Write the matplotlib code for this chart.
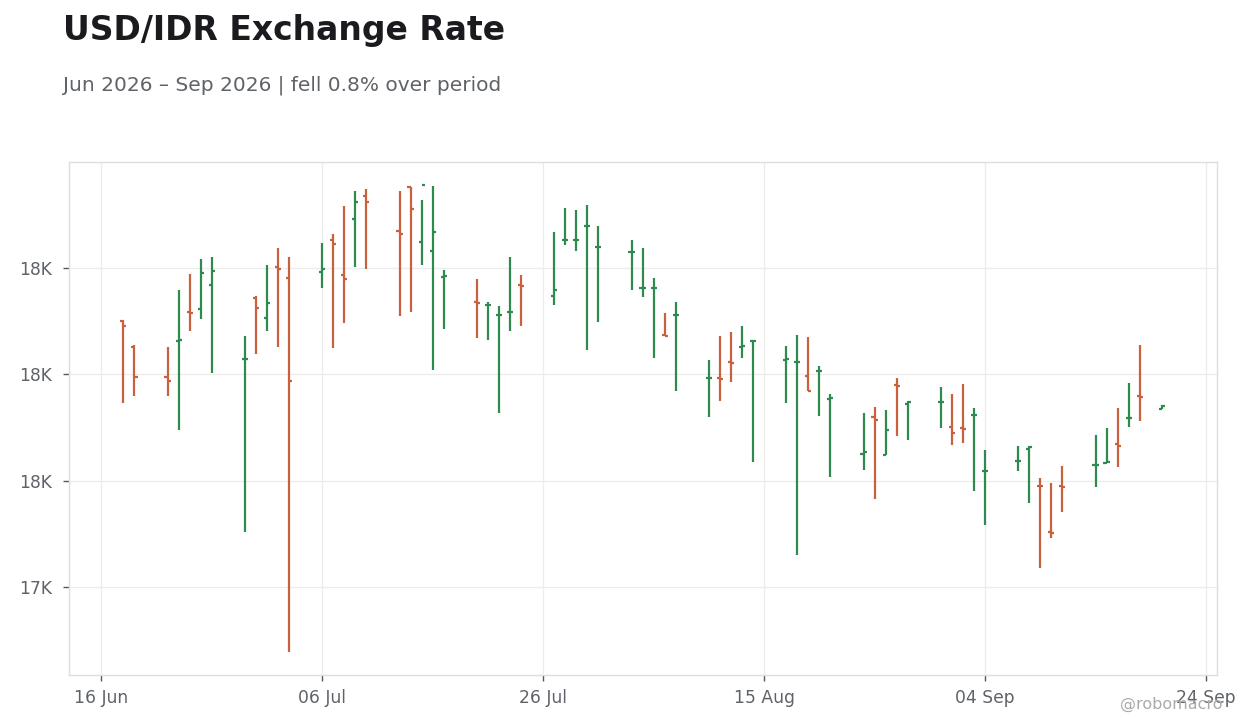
import numpy as np
import pandas as pd
import matplotlib
matplotlib.use("Agg")
import matplotlib.pyplot as plt
import matplotlib.dates as mdates
from matplotlib.ticker import MultipleLocator, FuncFormatter


# Daily OHLC values

dates = [
    "2026-06-18", "2026-06-19",
    "2026-06-22", "2026-06-23", "2026-06-24", "2026-06-25", "2026-06-26",
    "2026-06-29", "2026-06-30", "2026-07-01", "2026-07-02", "2026-07-03",
    "2026-07-06", "2026-07-07", "2026-07-08", "2026-07-09", "2026-07-10",
    "2026-07-13", "2026-07-14", "2026-07-15", "2026-07-16", "2026-07-17",
    "2026-07-20", "2026-07-21", "2026-07-22", "2026-07-23", "2026-07-24",
    "2026-07-27", "2026-07-28", "2026-07-29", "2026-07-30", "2026-07-31",
    "2026-08-03", "2026-08-04", "2026-08-05", "2026-08-06", "2026-08-07",
    "2026-08-10", "2026-08-11", "2026-08-12", "2026-08-13", "2026-08-14",
    "2026-08-17", "2026-08-18", "2026-08-19", "2026-08-20", "2026-08-21",
    "2026-08-24", "2026-08-25", "2026-08-26", "2026-08-27", "2026-08-28",
    "2026-08-31", "2026-09-01", "2026-09-02", "2026-09-03", "2026-09-04",
    "2026-09-07", "2026-09-08", "2026-09-09", "2026-09-10", "2026-09-11",
    "2026-09-14", "2026-09-15", "2026-09-16", "2026-09-17", "2026-09-18",
    "2026-09-20",
]

opens = [
    18252, 18130,
    17989, 18155, 18295, 18307, 18422,
    18071, 18360, 18266, 18506, 18454,
    18483, 18633, 18469, 18732, 18840,
    18675, 18882, 18624, 18581, 18458,
    18342, 18326, 18277, 18293, 18422,
    18370, 18630, 18630, 18697, 18598,
    18575, 18406, 18406, 18185, 18277,
    17982, 17984, 18060, 18130, 18156,
    18069, 18058, 17994, 18015, 17886,
    17627, 17801, 17623, 17952, 17862,
    17870, 17754, 17747, 17809, 17545,
    17591, 17651, 17477, 17258, 17474,
    17574, 17585, 17674, 17794, 17897,
    17837,
]

highs = [
    18256, 18138,
    18129, 18397, 18472, 18542, 18552,
    18180, 18368, 18514, 18594, 18552,
    18618, 18660, 18791, 18862, 18871,
    18862, 18882, 18820, 18885, 18489,
    18448, 18340, 18321, 18552, 18467,
    18669, 18782, 18773, 18796, 18697,
    18632, 18594, 18453, 18288, 18340,
    18068, 18180, 18199, 18227, 18162,
    18133, 18185, 18176, 18039, 17908,
    17818, 17847, 17833, 17983, 17876,
    17941, 17908, 17955, 17842, 17645,
    17663, 17663, 17513, 17490, 17569,
    17715, 17748, 17842, 17960, 18138,
    17855,
]

lows = [
    17864, 17900,
    17900, 17739, 18205, 18260, 18008,
    17261, 18097, 18205, 18130, 16697,
    18407, 18123, 18243, 18506, 18497,
    18276, 18295, 18516, 18022, 18215,
    18172, 18162, 17820, 18205, 18227,
    18326, 18610, 18580, 18115, 18246,
    18397, 18364, 18077, 18180, 17922,
    17801, 17876, 17966, 18078, 17590,
    17867, 17151, 17923, 17806, 17519,
    17552, 17416, 17623, 17712, 17693,
    17749, 17670, 17679, 17453, 17294,
    17547, 17397, 17091, 17232, 17355,
    17472, 17585, 17566, 17754, 17782,
    17835,
]

closes = [
    18229, 17989,
    17970, 18160, 18290, 18478, 18487,
    18074, 18313, 18337, 18495, 17970,
    18497, 18613, 18450, 18812, 18812,
    18661, 18779, 18892, 18671, 18464,
    18337, 18328, 18279, 18295, 18415,
    18398, 18632, 18632, 18699, 18600,
    18577, 18408, 18408, 18180, 18279,
    17984, 17978, 18055, 18133, 18158,
    18074, 18060, 17923, 18017, 17890,
    17637, 17787, 17740, 17947, 17872,
    17872, 17726, 17745, 17811, 17547,
    17593, 17660, 17475, 17256, 17472,
    17576, 17590, 17665, 17796, 17895,
    17853,
]

UP = "#2f8a50"
DOWN = "#c9603e"
GRID = "#ececec"
SPINE = "#dedede"
TEXT_GREY = "#5f6368"


df = pd.DataFrame({
    "date": pd.to_datetime(dates),
    "open": opens,
    "high": highs,
    "low": lows,
    "close": closes,
})
x = mdates.date2num(df["date"])
colors = np.where(df["close"] >= df["open"], UP, DOWN)
tick = 0.28  # half-width of open/close ticks, in days


fig = plt.figure(figsize=(12.6, 7.28), dpi=100)
ax = fig.add_axes([0.0548, 0.0728, 0.9111, 0.7047])

# OHLC bars
ax.vlines(x, df["low"], df["high"], colors=colors, linewidth=1.6, zorder=3)
ax.hlines(df["open"], x - tick, x, colors=colors, linewidth=1.6, zorder=3)
ax.hlines(df["close"], x, x + tick, colors=colors, linewidth=1.6, zorder=3)

# axes styling
ax.set_xlim(mdates.date2num(pd.Timestamp("2026-06-13 02:00")),
            mdates.date2num(pd.Timestamp("2026-09-25 00:00")))
ax.set_ylim(16587, 18998)

xticks = pd.date_range("2026-06-16", "2026-09-24", freq="20D")
ax.set_xticks(mdates.date2num(xticks))
ax.xaxis.set_major_formatter(mdates.DateFormatter("%d %b"))
ax.yaxis.set_major_locator(MultipleLocator(500))
ax.yaxis.set_major_formatter(FuncFormatter(lambda v, _: f"{v / 1000:.0f}K"))

ax.grid(True, color=GRID, linewidth=0.9, zorder=0)
ax.set_axisbelow(True)
for s in ax.spines.values():
    s.set_color(SPINE)
    s.set_linewidth(1.0)
ax.tick_params(axis="both", colors="#55585c", labelsize=12.3, length=4,
               width=1.0, labelcolor=TEXT_GREY)
ax.tick_params(axis="x", pad=6)
ax.tick_params(axis="y", pad=8)

# titles
fig.text(0.05, 0.958, "USD/IDR Exchange Rate", fontsize=23.8, fontweight="bold",
         color="#1b1b1f", va="center", ha="left")
fig.text(0.05, 0.883, "Jun 2026 \u2013 Sep 2026 | fell 0.8% over period",
         fontsize=14.5, color=TEXT_GREY, va="center", ha="left")
fig.text(0.97, 0.032, "@robomacro", fontsize=11.5, color="#ababab",
         va="center", ha="right")

fig.savefig("out.png", dpi=100)
